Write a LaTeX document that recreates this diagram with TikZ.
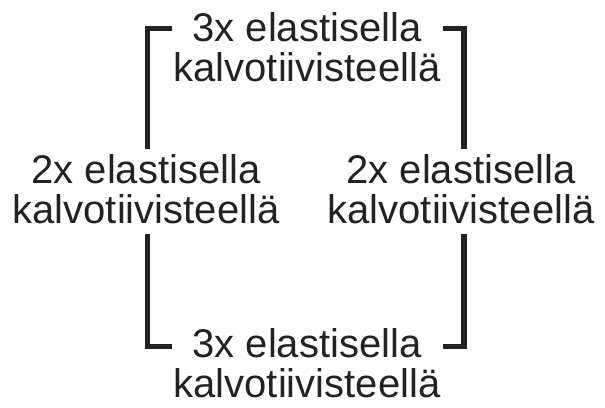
\documentclass[tikz,border=0pt]{standalone}
\usepackage{fontspec}
\setmainfont{Liberation Sans}
\definecolor{ink}{HTML}{222222}
\begin{document}
\begin{tikzpicture}[x=1pt,y=-1pt,
  lbl/.style={align=center, inner sep=0pt, text=ink, font=\fontsize{40}{40}\selectfont},
  bar/.style={draw=ink, line width=5.5pt, line cap=butt, line join=miter}]
\useasboundingbox (0,0) rectangle (605,407);
\node[lbl] (top) at (307,47) {3x elastisella\\kalvotiivisteellä};
\node[lbl] (left) at (146,189.5) {2x elastisella\\kalvotiivisteellä};
\node[lbl] (right) at (461,189.5) {2x elastisella\\kalvotiivisteellä};
\node[lbl] (bot) at (307,363.5) {3x elastisella\\kalvotiivisteellä};
% bracket coordinates
\coordinate (tlA) at (172,28.5);
\coordinate (tlC) at (147.5,28.5);
\coordinate (lU) at (147.5,149);
\coordinate (lD) at (147.5,234);
\coordinate (blC) at (147.5,346.5);
\coordinate (blA) at (172,346.5);
\coordinate (trA) at (443,28.5);
\coordinate (trC) at (464,28.5);
\coordinate (rU) at (464,149);
\coordinate (rD) at (464,234);
\coordinate (brC) at (464,346.5);
\coordinate (brA) at (443,346.5);
\draw[bar] (tlA) -- (tlC) -- (lU);
\draw[bar] (lD) -- (blC) -- (blA);
\draw[bar] (trA) -- (trC) -- (rU);
\draw[bar] (rD) -- (brC) -- (brA);
\end{tikzpicture}
\end{document}
